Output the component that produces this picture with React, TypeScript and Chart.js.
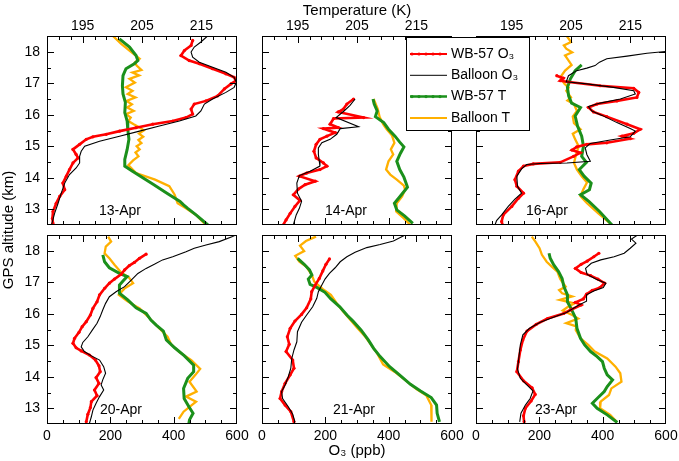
import React, { useEffect, useRef } from 'react';
import { Chart, registerables } from 'chart.js';
Chart.register(...registerables);

// ---------- data: [value, altitude km] ----------
const apr13WbO3 = [[460,18.36],[455,18.2],[434,18.04],[423,17.88],[449,17.72],[481,17.62],[523,17.46],[565,17.3],[591,17.19],[596,17.08],[581,16.98],[560,16.82],[539,16.6],[502,16.44],[465,16.34],[455,16.18],[460,16.02],[439,15.91],[397,15.8],[334,15.7],[281,15.59],[229,15.48],[187,15.38],[145,15.3],[124,15.22],[103,15.06],[82,14.9],[92,14.74],[98,14.63],[82,14.47],[71,14.26],[61,14.05],[50,13.83],[56,13.62],[40,13.41],[29,13.19],[19,12.93],[17,12.71],[19,12.55]];
const apr13BalO3 = [[507,18.5],[486,18.31],[465,18.15],[455,17.99],[460,17.83],[481,17.67],[523,17.51],[565,17.35],[591,17.19],[598,17.03],[591,16.87],[565,16.71],[523,16.5],[497,16.34],[486,16.12],[470,15.96],[418,15.8],[355,15.64],[292,15.48],[229,15.32],[166,15.16],[119,15.0],[108,14.84],[103,14.68],[103,14.47],[92,14.31],[71,14.1],[56,13.83],[45,13.51],[35,13.19],[24,12.87],[17,12.61],[14,12.5]];
const apr13WbT = [[201.2,18.41],[202.9,18.15],[204.0,17.88],[204.3,17.72],[203.7,17.62],[202.3,17.46],[201.8,17.24],[201.7,16.92],[201.8,16.66],[202.2,16.39],[202.1,16.07],[202.5,15.8],[202.6,15.54],[202.8,15.22],[202.5,14.9],[202.1,14.58],[202.1,14.37],[203.4,14.21],[205.2,13.99],[207.0,13.78],[209.2,13.51],[211.4,13.25],[212.0,13.14],[212.7,13.03],[214.1,12.82],[216.1,12.5]];
const apr13BalT = [[200.1,18.5],[201.5,18.25],[203.2,17.99],[204.6,17.78],[203.8,17.66],[204.1,17.56],[204.9,17.42],[203.4,17.34],[204.5,17.25],[202.9,17.14],[203.8,17.02],[202.3,16.87],[203.4,16.76],[202.6,16.66],[203.9,16.55],[202.4,16.44],[203.3,16.33],[202.5,16.23],[203.6,16.12],[202.3,16.02],[203.1,15.91],[202.7,15.8],[203.6,15.7],[204.6,15.6],[205.3,15.5],[204.5,15.4],[205.2,15.3],[204.4,15.2],[204.9,15.1],[204.1,15.0],[204.6,14.9],[203.9,14.8],[204.4,14.68],[203.5,14.55],[202.7,14.4],[204.0,14.15],[207.2,13.94],[209.6,13.73],[210.5,13.46],[211.0,13.19],[212.4,13.03],[214.1,12.82],[215.5,12.55]];

const apr14WbO3 = [[289,16.5],[268,16.34],[257,16.18],[241,16.09],[321,15.91],[226,15.88],[215,15.7],[241,15.59],[194,15.56],[231,15.43],[205,15.32],[183,15.22],[171,15.06],[164,14.84],[171,14.63],[194,14.47],[205,14.37],[183,14.26],[141,14.15],[118,14.05],[168,13.89],[136,13.78],[115,13.64],[99,13.46],[120,13.28],[104,13.09],[89,12.87],[76,12.66],[67,12.5]];
const apr14BalO3 = [[294,16.5],[278,16.3],[259,16.12],[234,15.91],[305,15.62],[247,15.56],[236,15.38],[215,15.22],[189,15.11],[178,14.95],[178,14.74],[181,14.52],[183,14.37],[152,14.21],[118,14.07],[110,13.83],[112,13.51],[125,13.25],[118,13.03],[108,12.82],[99,12.5]];
const apr14WbT = [[207.7,16.5],[207.9,16.34],[208.4,16.12],[208.1,15.94],[209.5,15.75],[210.3,15.54],[211.4,15.32],[212.2,15.13],[212.9,14.98],[212.3,14.77],[211.7,14.52],[212.2,14.26],[212.9,14.02],[213.3,13.81],[213.5,13.7],[212.0,13.35],[211.3,13.19],[211.7,12.98],[213.0,12.79],[214.4,12.55]];
const apr14BalT = [[207.8,16.5],[208.5,16.18],[208.8,15.94],[209.4,15.7],[210.0,15.54],[210.9,15.34],[211.3,15.11],[210.7,14.9],[211.1,14.74],[210.3,14.52],[209.9,14.26],[210.6,14.1],[211.7,13.94],[212.9,13.75],[213.1,13.62],[212.6,13.41],[211.7,13.19],[211.6,12.93],[212.9,12.71],[214.0,12.5]];

const apr16WbO3 = [[255,17.24],[276,17.16],[266,17.08],[287,17.05],[392,16.92],[498,16.84],[514,16.71],[508,16.55],[445,16.44],[382,16.34],[355,16.23],[371,16.09],[413,15.94],[477,15.7],[519,15.54],[498,15.41],[461,15.32],[487,15.24],[413,15.11],[350,15.06],[318,14.98],[303,14.88],[329,14.79],[308,14.68],[266,14.49],[181,14.44],[150,14.37],[134,14.21],[123,13.94],[129,13.73],[150,13.51],[134,13.35],[113,13.09],[86,12.82],[81,12.61],[84,12.5]];
const apr16BalO3 = [[598,18.01],[540,17.95],[477,17.86],[413,17.78],[390,17.67],[376,17.56],[350,17.48],[318,17.4],[292,17.24],[285,17.05],[350,16.98],[434,16.87],[498,16.76],[503,16.66],[456,16.5],[392,16.37],[355,16.26],[366,16.12],[398,15.98],[445,15.75],[487,15.56],[503,15.48],[487,15.3],[424,15.2],[361,15.09],[345,14.95],[350,14.74],[361,14.52],[287,14.47],[202,14.45],[160,14.42],[144,14.28],[129,14.05],[131,13.73],[144,13.51],[123,13.32],[102,13.09],[81,12.82],[65,12.64],[60,12.5]];
const apr16WbT = [[206.8,17.58],[205.7,17.4],[204.9,17.14],[204.4,16.87],[204.6,16.6],[205.1,16.37],[206.6,16.23],[205.7,15.96],[206.1,15.64],[206.8,15.32],[207.1,15.0],[206.8,14.68],[207.6,14.49],[206.4,14.26],[207.2,14.05],[208.4,13.83],[208.1,13.62],[206.6,13.46],[208.0,13.25],[209.8,12.93],[211.9,12.5]];
const apr16BalT = [[204.3,18.5],[205.0,18.31],[203.8,18.2],[204.2,18.1],[205.2,17.98],[204.0,17.88],[204.6,17.72],[205.1,17.58],[204.0,17.4],[203.2,17.19],[203.9,16.98],[204.6,16.86],[204.2,16.76],[205.0,16.55],[204.4,16.45],[205.5,16.34],[206.0,16.12],[205.3,15.94],[205.5,15.73],[206.6,15.54],[205.3,15.4],[205.7,15.22],[206.3,15.0],[205.9,14.77],[205.5,14.47],[206.0,14.26],[206.8,14.05],[207.7,13.85],[207.1,13.64],[206.6,13.41],[207.7,13.19],[209.6,12.87],[211.6,12.55]];

const apr20WbO3 = [[313,17.89],[292,17.76],[276,17.63],[260,17.53],[245,17.39],[234,17.25],[213,17.1],[197,16.97],[182,16.81],[166,16.6],[158,16.38],[145,16.17],[137,15.96],[124,15.75],[111,15.59],[101,15.41],[87,15.22],[82,15.06],[92,14.92],[108,14.82],[134,14.69],[153,14.53],[164,14.35],[168,14.16],[155,13.97],[164,13.79],[150,13.58],[158,13.4],[140,13.21],[137,13.02],[129,12.81],[124,12.57]];
const apr20BalO3 = [[596,18.5],[586,18.45],[544,18.29],[502,18.18],[465,18.08],[439,17.97],[397,17.81],[365,17.71],[339,17.57],[313,17.44],[287,17.28],[266,17.07],[245,16.86],[218,16.7],[197,16.54],[185,16.33],[176,16.12],[168,15.91],[158,15.7],[143,15.48],[129,15.27],[113,15.09],[108,14.95],[118,14.8],[139,14.67],[166,14.53],[179,14.32],[185,14.11],[176,13.9],[171,13.74],[179,13.58],[166,13.37],[155,13.16],[145,12.94],[140,12.73],[134,12.52]];
const apr20WbT = [[198.4,17.87],[198.7,17.65],[199.5,17.46],[201.2,17.28],[202.5,17.18],[201.8,17.04],[201.2,16.91],[201.2,16.65],[202.6,16.44],[204.0,16.19],[205.7,16.01],[206.5,15.8],[207.4,15.64],[208.6,15.45],[209.1,15.17],[210.5,14.92],[212.1,14.67],[213.7,14.37],[213.7,14.16],[212.7,13.95],[212.0,13.63],[212.1,13.31],[212.9,13.05],[213.6,12.84],[213.0,12.63],[212.9,12.52]];
const apr20BalT = [[199.3,18.45],[199.8,18.29],[198.9,18.13],[198.7,17.92],[199.5,17.76],[200.4,17.55],[201.5,17.31],[202.8,17.15],[203.5,16.97],[202.1,16.81],[201.1,16.6],[202.5,16.4],[204.6,16.17],[206.0,15.91],[206.9,15.73],[207.9,15.54],[209.3,15.27],[209.9,15.03],[211.3,14.78],[213.3,14.53],[214.8,14.25],[214.0,14.06],[213.0,13.84],[214.2,13.53],[212.4,13.37],[214.1,13.21],[212.0,12.89],[211.2,12.66]];

const apr21WbO3 = [[213,17.74],[202,17.57],[192,17.36],[181,17.12],[168,16.91],[157,16.7],[154,16.47],[141,16.19],[125,15.98],[104,15.77],[89,15.54],[80,15.27],[86,15.03],[76,14.8],[97,14.53],[101,14.27],[89,14.06],[73,13.79],[62,13.53],[57,13.31],[73,13.1],[91,12.89],[101,12.57]];
const apr21BalO3 = [[452,18.5],[415,18.31],[373,18.2],[331,18.1],[294,17.95],[268,17.81],[247,17.65],[231,17.46],[213,17.28],[199,17.1],[189,16.91],[178,16.7],[173,16.49],[160,16.22],[141,15.96],[125,15.73],[112,15.43],[110,15.11],[101,14.85],[94,14.58],[91,14.27],[83,14.0],[73,13.74],[62,13.53],[65,13.31],[83,13.05],[97,12.81],[104,12.57]];
const apr21WbT = [[195.0,17.76],[196.1,17.57],[197.0,17.39],[197.4,17.23],[196.8,17.1],[197.1,16.93],[198.3,16.83],[199.6,16.68],[200.6,16.47],[202.1,16.22],[203.3,15.96],[204.4,15.75],[205.7,15.48],[206.9,15.17],[207.8,14.9],[208.9,14.64],[210.5,14.32],[212.0,14.08],[214.0,13.76],[215.7,13.55],[217.5,13.34],[218.4,13.1],[218.5,12.84],[218.9,12.57]];
const apr21BalT = [[198.1,18.45],[196.4,18.31],[195.4,18.16],[196.1,17.99],[194.6,17.84],[195.3,17.65],[196.5,17.49],[197.4,17.23],[197.8,17.02],[199.2,16.79],[200.6,16.6],[201.6,16.33],[202.6,16.09],[203.9,15.8],[205.1,15.54],[206.4,15.27],[207.2,15.06],[208.4,14.74],[209.4,14.39],[211.3,14.16],[213.3,13.87],[215.0,13.61],[216.7,13.4],[217.5,13.1],[217.6,12.81],[217.5,12.57]];

const apr23WbO3 = [[388,17.92],[372,17.81],[351,17.67],[332,17.57],[314,17.44],[332,17.31],[362,17.21],[385,17.1],[406,16.97],[391,16.83],[367,16.74],[349,16.62],[339,16.47],[314,16.36],[332,16.28],[298,16.12],[277,16.01],[226,15.85],[190,15.66],[161,15.45],[148,15.17],[140,14.85],[134,14.48],[129,14.16],[150,13.87],[177,13.65],[187,13.44],[174,13.23],[156,13.0],[150,12.76],[152,12.57]];
const apr23BalO3 = [[510,18.5],[491,18.37],[505,18.24],[487,18.08],[468,17.92],[436,17.81],[394,17.71],[364,17.6],[346,17.44],[351,17.25],[378,17.1],[410,16.97],[402,16.83],[372,16.72],[349,16.6],[349,16.4],[325,16.28],[304,16.15],[286,16.04],[251,15.91],[203,15.73],[169,15.54],[148,15.33],[140,15.01],[135,14.58],[131,14.25],[140,13.95],[159,13.76],[180,13.55],[171,13.31],[156,13.1],[142,12.84],[138,12.57]];
const apr23WbT = [[201.3,17.92],[201.5,17.76],[202.1,17.55],[202.9,17.34],[203.5,17.12],[203.8,16.86],[204.4,16.6],[204.4,16.38],[205.0,16.17],[205.8,15.85],[206.0,15.54],[206.6,15.22],[207.3,15.01],[208.3,14.8],[209.4,14.64],[210.3,14.48],[210.6,14.27],[211.1,14.06],[212.0,13.9],[211.1,13.69],[210.6,13.53],[209.4,13.31],[208.6,13.16],[209.4,13.0],[211.1,12.79],[212.8,12.55]];
const apr23BalT = [[198.4,18.45],[199.0,18.29],[199.7,18.08],[200.1,17.87],[200.9,17.65],[201.8,17.49],[202.7,17.34],[203.2,17.1],[204.1,16.86],[203.0,16.75],[203.5,16.65],[205.2,16.55],[203.1,16.44],[205.6,16.33],[204.5,16.22],[203.6,16.1],[205.2,15.96],[206.2,15.85],[204.2,15.7],[205.9,15.6],[205.8,15.48],[206.6,15.22],[207.9,15.01],[209.0,14.8],[211.1,14.58],[212.5,14.32],[213.3,14.11],[213.5,13.84],[211.8,13.63],[211.4,13.42],[210.0,13.21],[209.9,13.0],[211.6,12.79],[212.7,12.57]];

const DATES = ['13-Apr', '14-Apr', '16-Apr', '20-Apr', '21-Apr', '23-Apr'];
const O3_TICKS = [0, 200, 400, 600];
const T_TICKS = [195, 205, 215];
const ALT_TICKS = [13, 14, 15, 16, 17, 18];
const LEGEND_LABELS = ['WB-57 O₃', 'Balloon O₃', 'WB-57 T', 'Balloon T'];

const PANELS = [
  { wbO3: apr13WbO3, balO3: apr13BalO3, wbT: apr13WbT, balT: apr13BalT },
  { wbO3: apr14WbO3, balO3: apr14BalO3, wbT: apr14WbT, balT: apr14BalT },
  { wbO3: apr16WbO3, balO3: apr16BalO3, wbT: apr16WbT, balT: apr16BalT },
  { wbO3: apr20WbO3, balO3: apr20BalO3, wbT: apr20WbT, balT: apr20BalT },
  { wbO3: apr21WbO3, balO3: apr21BalO3, wbT: apr21WbT, balT: apr21BalT },
  { wbO3: apr23WbO3, balO3: apr23BalO3, wbT: apr23WbT, balT: apr23BalT },
];

// ---------- layout / style ----------
const W = 679, H = 461;
const PW = 190, PH = 189;
const COL_X = [47, 262, 476];
const ROW_Y = [36, 235];
const YW = 40, TH = 36, BH = H - (ROW_Y[1] + PH);
const DATE_POS = [[120, 211], [346, 211], [547, 211], [121, 410], [354, 410], [556, 410]];
const RED = '#ff0000', BLACK = '#000000', GREEN = '#1b901b', ORANGE = '#ffb000';
const FONT = '"Liberation Sans", Arial, Helvetica, sans-serif';

Chart.defaults.font.family = FONT;
Chart.defaults.color = '#000';

const toXY = (arr) => arr.map(([v, a]) => ({ x: v, y: a }));

function decoPlugin(i) {
  return {
    id: 'deco' + i,
    afterDraw(chart) {
      const { ctx, chartArea: a, scales } = chart;
      const xs = scales.x, ts = scales.t, ys = scales.y;
      const L = Math.round(a.left), T = Math.round(a.top), R = Math.round(a.right), B = Math.round(a.bottom);
      ctx.save();
      ctx.globalAlpha = 1;
      ctx.globalCompositeOperation = 'source-over';
      ctx.fillStyle = '#000';
      ctx.fillRect(L, T, R - L, 1);
      ctx.fillRect(L, B - 1, R - L, 1);
      ctx.fillRect(L, T, 1, B - T);
      ctx.fillRect(R - 1, T, 1, B - T);
      for (let v = 50; v < 600; v += 50) {
        const px = Math.round(xs.getPixelForValue(v));
        const len = v % 200 === 0 ? 7 : 4;
        ctx.fillRect(px, B - len, 1, len);
      }
      for (let v = 191; v < 221; v += 2) {
        const px = Math.round(ts.getPixelForValue(v));
        const len = (v - 195) % 10 === 0 ? 7 : 4;
        ctx.fillRect(px, T, 1, len);
      }
      for (let k = 1; k < 12; k++) {
        const v = 12.5 + k * 0.5;
        const py = Math.round(ys.getPixelForValue(v));
        const len = Number.isInteger(v) ? 7 : 4;
        ctx.fillRect(L, py, len, 1);
        ctx.fillRect(R - len, py, len, 1);
      }

      ctx.font = '14px ' + FONT;
      ctx.textAlign = 'center';
      ctx.textBaseline = 'middle';
      ctx.fillText(DATES[i], DATE_POS[i][0], DATE_POS[i][1]);

      if (i === 0) {
        ctx.save();
        ctx.translate(9, 230);
        ctx.rotate(-Math.PI / 2);
        ctx.font = '15px ' + FONT;
        ctx.fillText('GPS altitude (km)', 0, 0);
        ctx.restore();
      }

      if (i === 2) {
        const lx = 406, ly = 37, lw = 123, lh = 93;
        ctx.fillStyle = '#fff';
        ctx.fillRect(lx, ly, lw, lh);
        ctx.strokeStyle = '#000';
        ctx.lineWidth = 1;
        ctx.strokeRect(lx + 0.5, ly + 0.5, lw, lh);
        const cols = [RED, BLACK, GREEN, ORANGE];
        const widths = [2, 1, 2.5, 2];
        const dots = [true, false, true, false];
        for (let k = 0; k < 4; k++) {
          const y = 54 + k * 21.3;
          ctx.strokeStyle = cols[k];
          ctx.lineWidth = widths[k];
          ctx.beginPath(); ctx.moveTo(410, y); ctx.lineTo(447, y); ctx.stroke();
          if (dots[k]) {
            ctx.fillStyle = cols[k];
            for (let d = 412; d <= 446; d += 7) { ctx.beginPath(); ctx.arc(d, y, 1.6, 0, Math.PI * 2); ctx.fill(); }
          }
          ctx.fillStyle = '#000';
          ctx.font = '14px ' + FONT;
          ctx.textAlign = 'left';
          ctx.textBaseline = 'middle';
          ctx.fillText(LEGEND_LABELS[k], 451, y);
        }
      }
      ctx.restore();
    },
  };
}

function makeConfig(p, i) {
  const row = Math.floor(i / 3), col = i % 3;
  const left = COL_X[col], top = ROW_Y[row];
  const showY = col === 0, showTop = row === 0, showBottom = row === 1;
  const tickFont = { size: 14, family: FONT };
  const titleFont = { size: 15, family: FONT };
  return {
    type: 'line',
    data: {
      datasets: [
        { label: LEGEND_LABELS[1], data: toXY(p.balO3), xAxisID: 'x', yAxisID: 'y', borderColor: BLACK, borderWidth: 1.1, pointRadius: 0, order: 0 },
        { label: LEGEND_LABELS[0], data: toXY(p.wbO3), xAxisID: 'x', yAxisID: 'y', borderColor: RED, borderWidth: 2.6, pointRadius: 1.6, pointBorderWidth: 0, pointBackgroundColor: RED, order: 1 },
        { label: LEGEND_LABELS[2], data: toXY(p.wbT), xAxisID: 't', yAxisID: 'y', borderColor: GREEN, borderWidth: 3, pointRadius: 0, order: 2 },
        { label: LEGEND_LABELS[3], data: toXY(p.balT), xAxisID: 't', yAxisID: 'y', borderColor: ORANGE, borderWidth: 2.3, pointRadius: 0, order: 3 },
      ],
    },
    options: {
      animation: false,
      responsive: false,
      devicePixelRatio: 1,
      events: [],
      layout: {
        padding: {
          left: left - (showY ? YW : 0),
          top: top - (showTop ? TH : 0),
          right: W - left - PW,
          bottom: H - top - PH - (showBottom ? BH : 0),
        },
      },
      plugins: { legend: { display: false }, tooltip: { enabled: false } },
      scales: {
        x: {
          type: 'linear', position: 'bottom', min: 0, max: 600, display: showBottom,
          grid: { display: false, drawTicks: false }, border: { display: false },
          ticks: { padding: 4, color: '#000', font: tickFont, maxRotation: 0, autoSkip: false, callback: (v) => String(v) },
          afterBuildTicks: (s) => { s.ticks = O3_TICKS.map((v) => ({ value: v })); },
          afterFit: (s) => { s.height = showBottom ? BH : 0; s.paddingLeft = 0; s.paddingRight = 0; },
          title: { display: showBottom && col === 1, text: 'O₃ (ppb)', color: '#000', font: titleFont, padding: { top: 0, bottom: 1 } },
        },
        t: {
          type: 'linear', position: 'top', min: 189, max: 221, display: showTop,
          grid: { display: false, drawTicks: false }, border: { display: false },
          ticks: { padding: 1, color: '#000', font: tickFont, maxRotation: 0, autoSkip: false, callback: (v) => String(v) },
          afterBuildTicks: (s) => { s.ticks = T_TICKS.map((v) => ({ value: v })); },
          afterFit: (s) => { s.height = showTop ? TH : 0; s.paddingLeft = 0; s.paddingRight = 0; },
          title: { display: showTop && col === 1, text: 'Temperature (K)', color: '#000', font: titleFont, padding: { top: 2, bottom: 0 } },
        },
        y: {
          type: 'linear', position: 'left', min: 12.5, max: 18.5, display: showY,
          grid: { display: false, drawTicks: false }, border: { display: false },
          ticks: { padding: 7, color: '#000', font: tickFont, autoSkip: false, callback: (v) => String(v) },
          afterBuildTicks: (s) => { s.ticks = ALT_TICKS.map((v) => ({ value: v })); },
          afterFit: (s) => { s.width = showY ? YW : 0; s.paddingTop = 0; s.paddingBottom = 0; },
        },
      },
    },
    plugins: [decoPlugin(i)],
  };
}

export default function App() {
  const refs = useRef([]);
  useEffect(() => {
    const charts = PANELS.map((p, i) => new Chart(refs.current[i], makeConfig(p, i)));
    return () => charts.forEach((c) => c.destroy());
  }, []);
  return (
    <div style={{ position: 'fixed', left: 0, top: 0, width: W, height: H, background: '#fff' }}>
      {PANELS.map((_, i) => (
        <canvas
          key={i}
          ref={(el) => { refs.current[i] = el; }}
          width={W}
          height={H}
          style={{ position: 'absolute', left: 0, top: 0, width: W, height: H }}
        />
      ))}
    </div>
  );
}
